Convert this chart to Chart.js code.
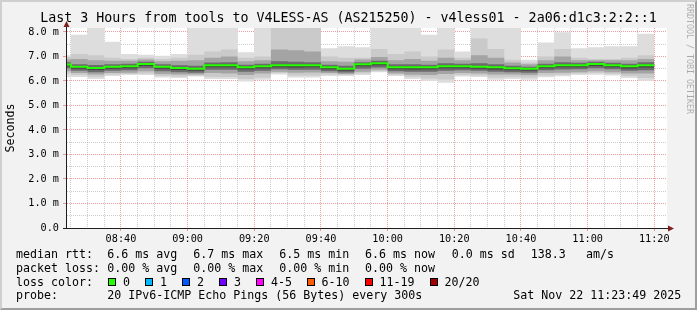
<!DOCTYPE html>
<html><head><meta charset="utf-8">
<script src="https://cdn.jsdelivr.net/npm/chart.js"></script>
<style>
html,body{margin:0;padding:0;}
body{width:697px;height:310px;overflow:hidden;background:#f2f2f2;position:relative;font-family:"DejaVu Sans Mono",monospace;}
#wrap{position:absolute;left:0;top:0;width:697px;height:310px;}
.frame{position:absolute;left:0;top:0;width:697px;height:310px;box-sizing:border-box;border-left:2px solid #cfcfcf;border-top:2px solid #cfcfcf;border-right:2px solid #9e9e9e;border-bottom:2px solid #9e9e9e;pointer-events:none;}
.t{position:absolute;font-size:11.63px;line-height:14px;height:14px;color:#000;white-space:pre;}
.box{position:absolute;width:6px;height:6px;border:1px solid #000;}
.wm{position:absolute;left:694px;top:4px;font-size:8.3px;line-height:9px;color:rgba(0,0,0,0.3);white-space:pre;transform:rotate(90deg);transform-origin:0 0;}
</style>
</head><body>
<div id="wrap"><canvas id="c" width="697" height="310"></canvas></div>
<div id="legend"></div>
<div class="wm">RRDTOOL / TOBI OETIKER</div>
<div class="frame"></div>
<script>
// ---------- data ----------
const titleText = 'Last 3 Hours from tools to V4LESS-AS (AS215250) - v4less01 - 2a06:d1c3:2:2::1';
const axisStart = '08:23:49';
const axisEnd = '11:23:49';
// start time of each 5-minute column
const slotStart = ['08:20','08:25','08:30','08:35','08:40','08:45','08:50','08:55','09:00','09:05','09:10','09:15',
  '09:20','09:25','09:30','09:35','09:40','09:45','09:50','09:55','10:00','10:05','10:10','10:15',
  '10:20','10:25','10:30','10:35','10:40','10:45','10:50','10:55','11:00','11:05','11:10','11:15'];
const lastSlotEnd = '11:20';
// sorted ping values per column (ms)
const pingMin = [6.15,6.16,6.08,6.20,6.24,6.24,6.14,6.12,6.18,6.08,6.08,5.98,6.05,6.26,6.14,6.14,6.20,6.20,6.24,6.36,6.20,6.08,6.01,5.93,6.18,6.16,6.05,6.08,6.05,6.15,6.19,6.24,6.25,6.22,6.12,6.01];
const ping2   = [6.30,6.24,6.16,6.26,6.28,6.30,6.20,6.18,6.22,6.16,6.16,6.08,6.14,6.32,6.22,6.22,6.26,6.24,6.30,6.40,6.25,6.16,6.10,6.06,6.24,6.22,6.14,6.16,6.14,6.22,6.25,6.30,6.32,6.28,6.20,6.12];
const ping4   = [6.40,6.32,6.26,6.32,6.34,6.40,6.28,6.26,6.26,6.32,6.30,6.24,6.30,6.38,6.34,6.35,6.32,6.28,6.38,6.46,6.30,6.25,6.24,6.28,6.32,6.30,6.26,6.26,6.24,6.32,6.34,6.36,6.40,6.36,6.30,6.30];
const ping7   = [6.52,6.42,6.36,6.42,6.44,6.52,6.40,6.36,6.34,6.46,6.46,6.38,6.42,6.48,6.46,6.46,6.40,6.35,6.50,6.55,6.40,6.38,6.38,6.42,6.44,6.42,6.38,6.36,6.34,6.44,6.47,6.48,6.52,6.48,6.42,6.44];
const ping9   = [6.60,6.50,6.45,6.50,6.52,6.61,6.50,6.45,6.42,6.56,6.56,6.48,6.52,6.56,6.55,6.56,6.48,6.42,6.60,6.64,6.48,6.47,6.48,6.52,6.52,6.50,6.47,6.44,6.42,6.52,6.56,6.56,6.61,6.56,6.51,6.55];
const median  = [6.67,6.58,6.53,6.58,6.60,6.69,6.58,6.53,6.50,6.64,6.64,6.56,6.60,6.64,6.64,6.64,6.56,6.50,6.68,6.72,6.56,6.56,6.56,6.60,6.60,6.58,6.56,6.52,6.50,6.60,6.64,6.64,6.69,6.64,6.60,6.64];
const ping12  = [6.69,6.61,6.56,6.61,6.63,6.72,6.61,6.56,6.53,6.67,6.67,6.59,6.63,6.67,6.67,6.67,6.59,6.53,6.71,6.75,6.59,6.59,6.59,6.63,6.63,6.61,6.59,6.55,6.53,6.63,6.67,6.67,6.72,6.67,6.63,6.67];
const ping14  = [6.76,6.68,6.65,6.68,6.70,6.78,6.68,6.64,6.62,6.75,6.76,6.66,6.70,6.80,6.78,6.76,6.66,6.62,6.76,6.82,6.68,6.68,6.66,6.72,6.70,6.72,6.68,6.62,6.58,6.70,6.76,6.74,6.78,6.74,6.70,6.76];
const ping17  = [6.88,6.90,6.85,6.83,6.82,6.88,6.80,6.82,6.85,6.95,7.00,6.80,6.85,7.28,7.25,7.20,6.80,6.78,6.88,6.98,6.85,6.90,6.82,6.95,6.85,7.05,6.95,6.75,6.68,6.85,7.00,6.85,6.85,6.85,6.85,6.90];
const ping19  = [6.98,7.10,7.05,6.95,6.90,6.95,6.90,6.95,7.07,7.20,7.28,6.95,7.00,8.40,8.30,8.35,7.00,6.95,6.95,7.30,7.10,7.20,7.00,7.28,6.95,7.73,7.30,6.87,6.75,7.00,7.30,6.95,6.90,6.90,6.95,7.05];
const pingMax = [7.05,7.89,8.60,7.60,7.10,7.07,7.03,7.10,8.50,8.40,8.70,7.17,8.45,8.80,8.60,8.75,7.33,7.42,7.38,8.50,8.40,8.45,7.89,8.55,7.20,8.65,8.40,8.30,6.87,7.57,7.99,7.33,7.38,7.42,7.42,7.93];
const yTickLabels = ['0.0','1.0 m','2.0 m','3.0 m','4.0 m','5.0 m','6.0 m','7.0 m','8.0 m'];
const xTickLabels = ['08:40','09:00','09:20','09:40','10:00','10:20','10:40','11:00','11:20'];
const rttLegend = ['6.6 ms avg','6.7 ms max','6.5 ms min','6.6 ms now','0.0 ms sd','138.3','am/s'];
const lossLegend = ['0.00 % avg','0.00 % max','0.00 % min','0.00 % now'];
const lossLabels = ['0','1','2','3','4-5','6-10','11-19','20/20'];
const lossColors = ['#26ff00','#00b8ff','#0059ff','#7000ff','#ff00ff','#ff5a00','#ff0000','#a10000'];
const probeText = '20 IPv6-ICMP Echo Pings (56 Bytes) every 300s';
const stampText = 'Sat Nov 22 11:23:49 2025';

// ---------- helpers ----------
const FONT = '"DejaVu Sans Mono", monospace';
function toMin(s){const p=s.split(':').map(Number);return p[0]*60+p[1]+(p[2]||0)/60;}
function series(arr){
  const pts = slotStart.map((t,i)=>({x:toMin(t),y:arr[i]}));
  pts.push({x:toMin(lastSlotEnd),y:arr[arr.length-1]});
  return pts;
}
const xMajor = xTickLabels.map(toMin);
const xGrid = [];
for(let m=toMin(slotStart[1]); m<=toMin(lastSlotEnd)+1e-9; m+=5) xGrid.push(m);
const yGrid = [];
for(let v=0; v<=yTickLabels.length-1+1e-9; v+=0.5) yGrid.push(v);
const yMax = 8.163;

const MINOR = 'rgba(143,143,143,0.45)';
const MAJOR = 'rgba(222,79,79,0.55)';

const bands = [
  [pingMin, pingMax, '#dddddd'],
  [ping2, ping19, '#cacaca'],
  [ping4, ping17, '#a4a4a4'],
  [ping7, ping14, '#6b6b6b'],
  [ping9, ping12, '#454545']
];
const datasets = [];
bands.forEach(([lo,hi,col],k)=>{
  const base = {borderWidth:0,borderColor:'rgba(0,0,0,0)',pointRadius:0,stepped:'before',order:10-k};
  datasets.push(Object.assign({data:series(lo),fill:false},base));
  datasets.push(Object.assign({data:series(hi),fill:'-1',backgroundColor:col},base));
});
datasets.push({data:series(median),borderColor:'#26ff00',borderWidth:2,pointRadius:0,stepped:'before',fill:false,order:0});

const decor = {
  id:'decor',
  beforeDraw(chart){
    const {ctx, chartArea:a} = chart;
    ctx.save();
    ctx.fillStyle='#ffffff';
    ctx.fillRect(a.left,a.top,a.right-a.left,a.bottom-a.top);
    ctx.restore();
  },
  afterDraw(chart){
    const {ctx, chartArea:a} = chart;
    ctx.save();
    ctx.strokeStyle='#1f1f1f';ctx.lineWidth=1;
    const ax = Math.round(a.left)-0.5, ay = Math.round(a.bottom)+0.5;
    ctx.beginPath();
    ctx.moveTo(ax, ay); ctx.lineTo(ax, a.top-2);
    ctx.moveTo(a.left-4, ay); ctx.lineTo(a.right+1, ay);
    ctx.stroke();
    ctx.fillStyle='#801f1f';
    ctx.beginPath();
    ctx.moveTo(ax, a.top-7); ctx.lineTo(ax-3, a.top-1); ctx.lineTo(ax+3, a.top-1); ctx.closePath(); ctx.fill();
    ctx.beginPath();
    ctx.moveTo(a.right+7, ay); ctx.lineTo(a.right+1, ay-3); ctx.lineTo(a.right+1, ay+3); ctx.closePath(); ctx.fill();
    ctx.restore();
  }
};

new Chart(document.getElementById('c'), {
  type:'line',
  data:{datasets},
  options:{
    responsive:false, animation:false, devicePixelRatio:1, events:[],
    layout:{padding:{left:0,right:0,top:0,bottom:62}},
    plugins:{
      legend:{display:false}, tooltip:{enabled:false},
      title:{display:true,text:titleText,color:'#000',font:{family:FONT,size:13.3,weight:'normal',lineHeight:1.2},padding:{top:11,bottom:1}}
    },
    scales:{
      x:{type:'linear',min:toMin(axisStart),max:toMin(axisEnd),z:1,
        afterBuildTicks(s){s.ticks = xGrid.map(v=>({value:v}));},
        afterFit(s){s.height=20;},
        border:{display:false,dash:[1,1]},
        grid:{lineWidth:1,tickLength:3,
          color:c=>xMajor.some(m=>Math.abs(m-c.tick.value)<1e-6)?MAJOR:MINOR,
          tickColor:c=>xMajor.some(m=>Math.abs(m-c.tick.value)<1e-6)?MAJOR:'rgba(0,0,0,0)'},
        ticks:{autoSkip:false,maxRotation:0,minRotation:0,color:'#000',padding:2,font:{family:FONT,size:10.2},
          callback:v=>{const i=xMajor.findIndex(m=>Math.abs(m-v)<1e-6);return i>=0?xTickLabels[i]:'';}}
      },
      y:{type:'linear',min:0,max:yMax,z:1,position:'left',
        afterBuildTicks(s){s.ticks = yGrid.map(v=>({value:v}));},
        afterFit(s){s.width=67;},
        border:{display:false,dash:[1,1]},
        grid:{lineWidth:1,tickLength:4,
          color:c=>Number.isInteger(c.tick.value)?MAJOR:MINOR,
          tickColor:c=>Number.isInteger(c.tick.value)?MAJOR:'rgba(0,0,0,0)'},
        ticks:{autoSkip:false,color:'#000',padding:4,font:{family:FONT,size:10.2},
          callback:v=>Number.isInteger(v)?yTickLabels[v]:''},
        title:{display:true,text:'Seconds',color:'#000',font:{family:FONT,size:11.63},padding:{top:4,bottom:0}}
      },
      yr:{type:'linear',position:'right',display:true,min:0,max:1,
        afterFit(s){s.width=30;},
        grid:{display:false},border:{display:false},ticks:{display:false}}
    }
  },
  plugins:[decor]
});

// ---------- legend (HTML text) ----------
const L = document.getElementById('legend');
function txt(s,x,y){const d=document.createElement('div');d.className='t';d.textContent=s;d.style.left=x+'px';d.style.top=y+'px';L.appendChild(d);}
const rowTop=[247.3,260.7,275,288.3];
const valX=[107.3,193.3,279.3,365,451.7,530.7,586];
txt('median rtt:',16,rowTop[0]);
rttLegend.forEach((s,i)=>txt(s,valX[i],rowTop[0]));
txt('packet loss:',16,rowTop[1]);
lossLegend.forEach((s,i)=>txt(s,valX[i],rowTop[1]));
txt('loss color:',16,rowTop[2]);
const boxX=[108,145,182,219,256,306.5,364.5,429.5];
lossLabels.forEach((s,i)=>{
  const b=document.createElement('div');b.className='box';b.style.left=boxX[i]+'px';b.style.top='278px';b.style.background=lossColors[i];L.appendChild(b);
  txt(s,boxX[i]+15,rowTop[2]);
});
txt('probe:',16,rowTop[3]);
txt(probeText,107.3,rowTop[3]);
txt(stampText,513.3,rowTop[3]);
</script>
</body></html>
